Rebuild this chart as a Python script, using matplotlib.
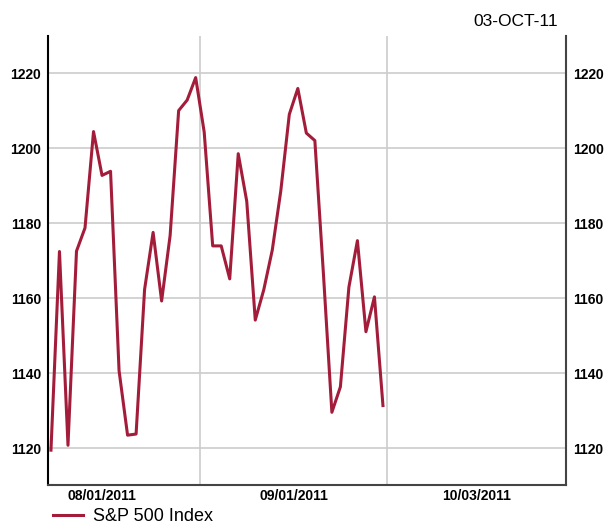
import numpy as np
import matplotlib.pyplot as plt

plt.rcParams['font.family'] = ['Liberation Sans', 'DejaVu Sans']

# S&P 500 daily closes, weekdays 08/08/2011 .. 09/30/2011 (holiday repeats prior close)
values = [1119.5, 1172.5, 1120.8, 1172.6, 1178.8, 1204.5, 1192.8, 1193.9, 1140.7, 1123.5,
          1123.8, 1162.4, 1177.6, 1159.3, 1176.8, 1210.1, 1212.9, 1218.9, 1204.4, 1174.0,
          1174.0, 1165.2, 1198.6, 1185.9, 1154.2, 1162.3, 1172.9, 1188.7, 1209.1, 1216.0,
          1204.1, 1202.1, 1166.8, 1129.6, 1136.4, 1163.0, 1175.4, 1151.1, 1160.4, 1131.4]
month_labels = ['08/01/2011', '09/01/2011', '10/03/2011']
month_mid = [6, 28.5, 50]        # label centred in each month, weekday index
month_bounds = [17.5, 39.5]      # month boundaries
yticks = [1120, 1140, 1160, 1180, 1200, 1220]

red = '#a31d3b'
x = np.arange(len(values))

fig = plt.figure(figsize=(6.05, 5.24), dpi=100)
ax = fig.add_axes([0.0793, 0.0744, 0.8562, 0.8569])

ax.plot(x, values, color=red, lw=2.2, label='S&P 500 Index', zorder=3)

ax.set_xlim(-0.35, 60.5)
ax.set_ylim(1110.2, 1230)
ax.set_yticks(yticks)
ax.set_xticks(month_mid)
ax.set_xticklabels(month_labels)
for b in month_bounds:
    ax.axvline(b, color='#cccccc', lw=1.2, zorder=1)
ax.grid(axis='y', color='#cccccc', lw=1.2, zorder=1)

ax.tick_params(axis='x', length=0, labelsize=10, pad=3)
ax.tick_params(axis='y', length=0, labelsize=10, pad=5, labelright=True, right=False)
for lab in ax.get_xticklabels():
    lab.set_fontweight('bold')
for t in ax.yaxis.get_major_ticks():
    t.label1.set_fontweight('bold')
    t.label2.set_fontweight('bold')

ax.spines['top'].set_visible(False)
ax.spines['left'].set_color('black')
ax.spines['left'].set_linewidth(1.5)
ax.spines['right'].set_color('#444444')
ax.spines['right'].set_linewidth(1.5)
ax.spines['bottom'].set_color('#444444')
ax.spines['bottom'].set_linewidth(1.5)

fig.text(0.923, 0.959, '03-OCT-11', ha='right', va='center', fontsize=12.5)

fig.legend(loc='center left', bbox_to_anchor=(0.0876, 0.014), frameon=False,
           borderaxespad=0, borderpad=0, fontsize=13,
           handlelength=1.67, handletextpad=0.55)

fig.savefig('out.png', dpi=100)
